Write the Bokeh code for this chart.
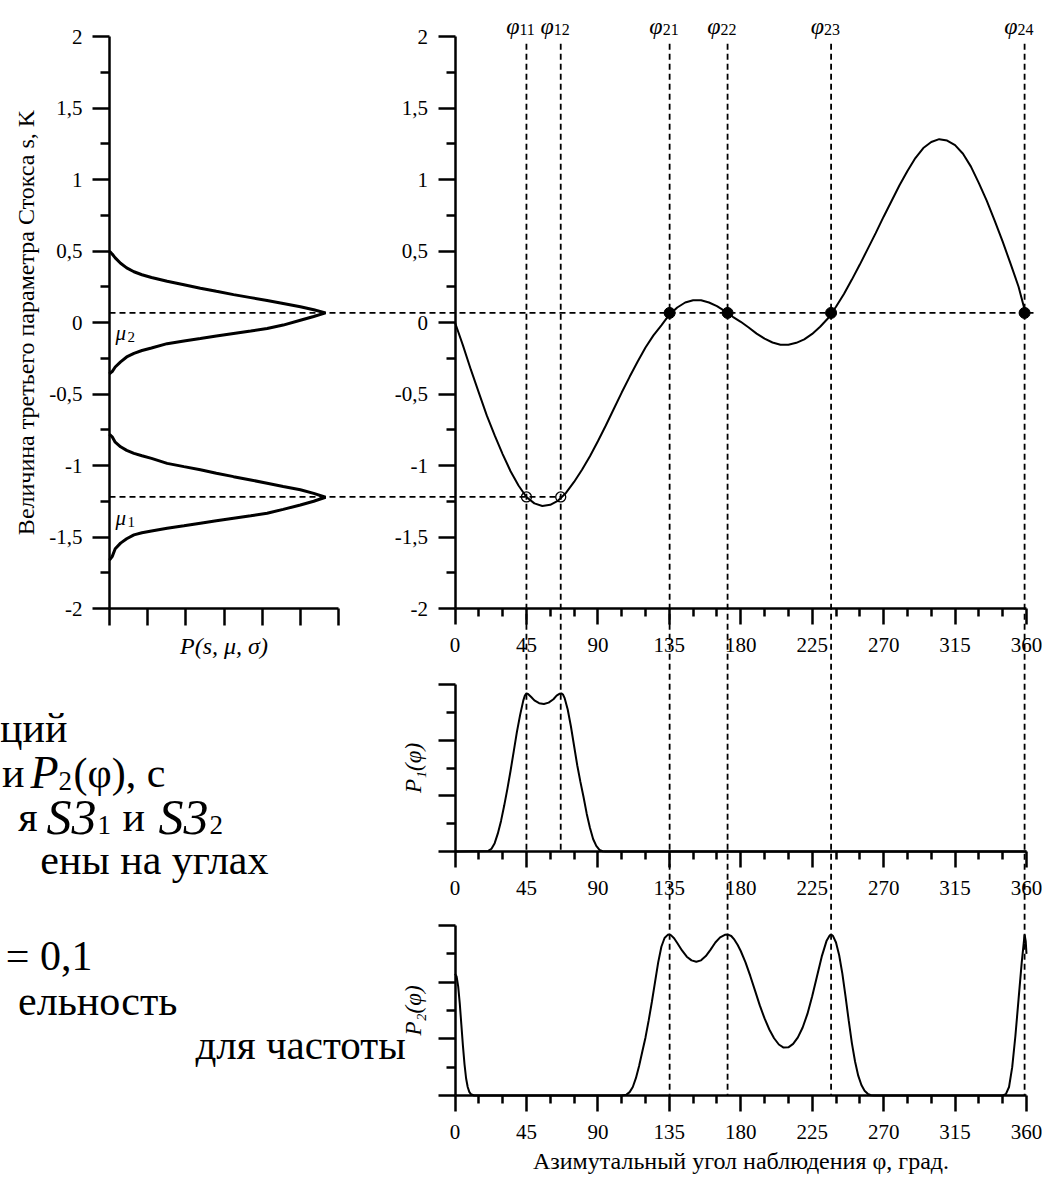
from bokeh.plotting import figure
from bokeh.models import Range1d, LinearAxis, FixedTicker, CustomJSTickFormatter
from bokeh.core.properties import value
from bokeh.embed import file_html
from bokeh.resources import INLINE

# ---------------- data ----------------
# left panel: densities P(s, mu, sigma) in tick units (0..6) vs s
pdf2_P = [0.0, 0.02, 0.07, 0.15, 0.29, 0.45, 0.64, 0.85, 1.1, 1.51, 1.95, 2.38, 2.8, 3.25, 3.7, 4.13, 4.55, 5.0, 5.35, 5.66,
          5.35, 5.0, 4.55, 4.13, 3.7, 3.25, 2.8, 2.38, 1.95, 1.51, 1.1, 0.85, 0.64, 0.45, 0.29, 0.15, 0.07, 0.02, 0.0]
pdf2_s = [0.500, 0.492, 0.479, 0.452, 0.414, 0.382, 0.355, 0.334, 0.315, 0.288, 0.264, 0.240, 0.218, 0.195, 0.174, 0.154, 0.133, 0.110, 0.089, 0.067,
          0.042, 0.016, -0.018, -0.042, -0.060, -0.077, -0.095, -0.112, -0.129, -0.148, -0.178, -0.196, -0.216, -0.241, -0.275, -0.311, -0.343, -0.353, -0.360]
pdf1_P = [0.0, 0.02, 0.07, 0.15, 0.29, 0.45, 0.64, 0.85, 1.1, 1.51, 1.95, 2.38, 2.8, 3.25, 3.7, 4.13, 4.55, 5.0, 5.35, 5.66,
          5.35, 5.0, 4.55, 4.13, 3.7, 3.25, 2.8, 2.38, 1.95, 1.51, 1.1, 0.85, 0.64, 0.45, 0.29, 0.15, 0.07, 0.02, 0.0]
pdf1_s = [-0.780, -0.787, -0.799, -0.837, -0.869, -0.894, -0.915, -0.932, -0.950, -0.985, -1.008, -1.030, -1.054, -1.078, -1.101, -1.124, -1.147, -1.170, -1.195, -1.222,
          -1.250, -1.276, -1.307, -1.334, -1.352, -1.369, -1.387, -1.404, -1.422, -1.439, -1.458, -1.470, -1.485, -1.512, -1.543, -1.582, -1.637, -1.654, -1.662]

mu1 = -1.22
mu2 = 0.067
phi1_marks = [45.0, 66.6]
phi2_marks = [135.2, 171.7, 236.9, 358.8]
phi1_names = ["11", "12"]
phi2_names = ["21", "22", "23", "24"]

# main panel: third Stokes parameter s vs azimuth phi
phi_s = list(range(0, 361, 5))
s3 = [0.0, -0.16, -0.33, -0.49, -0.65, -0.79, -0.92, -1.04, -1.14, -1.22,
      -1.265, -1.283, -1.275, -1.245, -1.19, -1.115, -1.03, -0.935, -0.83, -0.72,
      -0.605, -0.49, -0.38, -0.275, -0.175, -0.09, -0.02, 0.055, 0.105, 0.14,
      0.156, 0.155, 0.14, 0.115, 0.08, 0.04, 0.005, -0.035, -0.078, -0.113,
      -0.14, -0.155, -0.156, -0.142, -0.118, -0.08, -0.03, 0.03, 0.11, 0.2,
      0.3, 0.405, 0.515, 0.625, 0.74, 0.85, 0.96, 1.06, 1.15, 1.22,
      1.262, 1.282, 1.272, 1.24, 1.18, 1.09, 0.975, 0.85, 0.71, 0.565,
      0.41, 0.25, 0.04]

# P1(phi) in tick units 0..6
p1_phi = [0, 21, 23, 25, 27, 29, 31, 33, 35, 37, 39, 41, 43, 44, 45, 46, 48, 50, 53, 56,
          59, 62, 64, 66, 67, 68, 69, 71, 73, 75, 77, 79, 81, 83, 85, 87, 89, 91, 93, 95, 360]
p1_val = [0, 0.02, 0.1, 0.3, 0.65, 1.1, 1.65, 2.25, 2.9, 3.6, 4.3, 4.9, 5.42, 5.6, 5.68, 5.66, 5.55, 5.43, 5.33, 5.3,
          5.35, 5.47, 5.6, 5.67, 5.68, 5.64, 5.52, 5.1, 4.5, 3.8, 3.1, 2.5, 1.95, 1.35, 0.85, 0.45, 0.2, 0.06, 0.01, 0.0, 0.0]

# P2(phi) in tick units 0..6
p2_phi = [0, 1, 2, 3, 4, 5, 6, 7, 8, 9,
          10, 12, 105, 108, 110, 112, 114, 116, 118, 120,
          122, 124, 126, 128, 130, 132, 134, 135, 136, 138,
          140, 143, 146, 149, 152, 155, 158, 161, 164, 167,
          170, 172, 174, 176, 178, 180, 183, 186, 189, 192,
          195, 198, 201, 204, 207, 210, 213, 216, 219, 222,
          225, 228, 231, 234, 236, 237, 238, 240, 242, 244,
          246, 248, 250, 252, 254, 256, 258, 260, 262, 264,
          345, 347, 349, 351, 353, 355, 357, 358.8, 359.5, 360]
p2_val = [4.3, 4.2, 3.85, 3.25, 2.5, 1.75, 1.1, 0.6, 0.3, 0.13,
          0.05, 0.0, 0.0, 0.03, 0.12, 0.3, 0.62, 1.05, 1.55, 2.05,
          2.65, 3.3, 4.0, 4.7, 5.25, 5.56, 5.67, 5.68, 5.66, 5.55,
          5.38, 5.12, 4.9, 4.77, 4.72, 4.77, 4.92, 5.15, 5.4, 5.58,
          5.67, 5.68, 5.63, 5.5, 5.32, 5.1, 4.7, 4.22, 3.7, 3.18,
          2.72, 2.33, 2.02, 1.8, 1.69, 1.7, 1.82, 2.05, 2.4, 2.88,
          3.5, 4.2, 4.9, 5.45, 5.65, 5.68, 5.64, 5.4, 4.95, 4.3,
          3.5, 2.65, 1.85, 1.2, 0.7, 0.37, 0.17, 0.06, 0.01, 0.0,
          0.0, 0.05, 0.3, 1.0, 2.1, 3.4, 4.7, 5.68, 5.45, 5.0]

# ticks
s_major = [-2, -1.5, -1, -0.5, 0, 0.5, 1, 1.5, 2]
s_minor = [-1.75, -1.25, -0.75, -0.25, 0.25, 0.75, 1.25, 1.75]
pdf_ticks = [0, 1, 2, 3, 4, 5, 6]
phi_major = [0, 45, 90, 135, 180, 225, 270, 315, 360]
phi_minor = [15, 30, 60, 75, 105, 120, 150, 165, 195, 210, 240, 255, 285, 300, 330, 345]
p_major = [0, 2, 4, 6]
p_minor = [1, 3, 5]

# slide text fragments (cut at the left edge of the picture):
# (text, x px, baseline y px, align, style, size px)
slide_pieces = [
    ("ций", 67, 727, "right", "normal", 42),
    ("и", 24, 772, "right", "normal", 42),
    ("P", 30, 772, "left", "italic", 46),
    ("2", 58, 780, "left", "normal", 27),
    ("(φ), с", 73, 772, "left", "normal", 42),
    ("я", 37, 816, "right", "normal", 42),
    ("S3", 46, 816, "left", "italic", 50),
    ("1", 97, 824, "left", "normal", 27),
    ("и", 122, 816, "left", "normal", 42),
    ("S3", 158, 816, "left", "italic", 50),
    ("2", 209, 824, "left", "normal", 27),
    ("ены на углах", 268, 859, "right", "normal", 42),
    ("= 0,1", 92, 955, "right", "normal", 42),
    ("ельность", 177, 1000, "right", "normal", 42),
    ("для частоты", 195, 1044, "left", "normal", 41),
]

# ---------------- layout (page pixels) ----------------
MARGIN = 0
W, H = 1042, 1180
LEFT_AX_PX, LEFT_UNIT_PX = 109.0, 38.17
PHI0_PX, PHI_UNIT_PX = 454.5, 1.5875
S0_PY, S_UNIT_PX = 322.0, 143.0
P1_BASE_PY, P1_TOP_PY = 851.0, 684.0
P2_BASE_PY, P2_TOP_PY = 1095.0, 925.0
P_MAX = 6.0
p1_unit = (P1_BASE_PY - P1_TOP_PY) / P_MAX
p2_unit = (P2_BASE_PY - P2_TOP_PY) / P_MAX


def xr(origin_px, unit_px):
    return Range1d(start=(MARGIN - origin_px) / unit_px, end=(MARGIN + W - origin_px) / unit_px)


def yr(origin_py, unit_px):
    return Range1d(start=(origin_py - (MARGIN + H)) / unit_px, end=(origin_py - MARGIN) / unit_px)


def phi_of_px(px):
    return (px - PHI0_PX) / PHI_UNIT_PX


def s_of_py(py):
    return (S0_PY - py) / S_UNIT_PX


def left_of_px(px):
    return (px - LEFT_AX_PX) / LEFT_UNIT_PX


p = figure(width=W, height=H, x_range=xr(PHI0_PX, PHI_UNIT_PX), y_range=yr(S0_PY, S_UNIT_PX),
           x_axis_type=None, y_axis_type=None, output_backend="svg", toolbar_location=None,
           min_border=0)
p.extra_x_ranges = {"left": xr(LEFT_AX_PX, LEFT_UNIT_PX)}
p.extra_y_ranges = {"p1": yr(P1_BASE_PY, p1_unit), "p2": yr(P2_BASE_PY, p2_unit)}
p.outline_line_color = None
p.background_fill_color = "white"
p.border_fill_color = "white"

SERIF = "Liberation Serif"
comma_fmt = CustomJSTickFormatter(code="return String(tick).replace('.', ',');")
empty_fmt = CustomJSTickFormatter(code="return '';")


def style(ax, tick_out=17, minor_out=9):
    ax.axis_line_width = 2.5
    ax.axis_line_color = "black"
    ax.major_tick_line_width = 2.5
    ax.minor_tick_line_width = 2.5
    ax.major_tick_line_color = "black"
    ax.minor_tick_line_color = "black"
    ax.major_tick_in = 0
    ax.minor_tick_in = 0
    ax.major_tick_out = tick_out
    ax.minor_tick_out = minor_out
    ax.major_label_text_font = SERIF
    ax.major_label_text_font_size = "21px"
    ax.major_label_text_color = "black"
    ax.axis_label_text_font = SERIF
    ax.axis_label_text_font_size = "24px"
    ax.axis_label_text_color = "black"
    ax.axis_label_text_font_style = "normal"
    return ax


# left panel axes
ax = style(LinearAxis(x_range_name="left", fixed_location=0, bounds=(-2, 2),
                      ticker=FixedTicker(ticks=s_major, minor_ticks=s_minor), formatter=comma_fmt,
                      axis_label="Величина третьего параметра Стокса s, K"))
ax.major_label_standoff = 10
ax.axis_label_standoff = 7
p.add_layout(ax, "left")

ax = style(LinearAxis(x_range_name="left", fixed_location=-2, bounds=(0, 6),
                      ticker=FixedTicker(ticks=pdf_ticks), formatter=empty_fmt, axis_label="P(s, μ, σ)"))
ax.major_label_text_font_size = "0px"
ax.major_label_standoff = 0
ax.axis_label_text_font_style = "italic"
ax.axis_label_standoff = 7
p.add_layout(ax, "below")

# main panel axes
ax = style(LinearAxis(fixed_location=0, bounds=(-2, 2),
                      ticker=FixedTicker(ticks=s_major, minor_ticks=s_minor), formatter=comma_fmt))
ax.major_label_standoff = 10
p.add_layout(ax, "left")

ax = style(LinearAxis(fixed_location=-2, bounds=(0, 360),
                      ticker=FixedTicker(ticks=phi_major, minor_ticks=phi_minor)), tick_out=16, minor_out=8)
ax.major_label_standoff = 13
p.add_layout(ax, "below")

# P1 / P2 axes
for rname, lab, xlab in (("p1", "P₁(φ)", None), ("p2", "P₂(φ)", "Азимутальный угол наблюдения φ, град.")):
    ay = style(LinearAxis(y_range_name=rname, fixed_location=0, bounds=(0, P_MAX),
                          ticker=FixedTicker(ticks=p_major, minor_ticks=p_minor), formatter=empty_fmt,
                          axis_label=lab))
    ay.major_label_text_font_size = "0px"
    ay.major_label_standoff = 0
    ay.axis_label_text_font_style = "italic"
    ay.axis_label_text_font_size = "23px"
    ay.axis_label_standoff = 13
    p.add_layout(ay, "left")
    axx = style(LinearAxis(y_range_name=rname, fixed_location=0, bounds=(0, 360),
                           ticker=FixedTicker(ticks=phi_major, minor_ticks=phi_minor)), tick_out=16, minor_out=8)
    axx.major_label_standoff = 13
    if xlab:
        axx.axis_label = xlab
        axx.axis_label_standoff = 6
    p.add_layout(axx, "below")

# dashed guide lines
DASH = "6 4"
x_start = phi_of_px(LEFT_AX_PX)
x_end = phi_of_px(1033)
p.segment(x0=[x_start, x_start], y0=[mu2, mu1], x1=[x_end, phi1_marks[1]], y1=[mu2, mu1],
          line_color="black", line_width=1.8, line_dash=DASH)
top_s = 1.95
p1_base_s = s_of_py(P1_BASE_PY)
p2_base_s = s_of_py(P2_BASE_PY)
p.segment(x0=phi1_marks, y0=[top_s] * len(phi1_marks), x1=phi1_marks, y1=[p1_base_s] * len(phi1_marks),
          line_color="black", line_width=1.8, line_dash=DASH)
p.segment(x0=phi2_marks, y0=[top_s] * len(phi2_marks), x1=phi2_marks, y1=[p2_base_s] * len(phi2_marks),
          line_color="black", line_width=1.8, line_dash=DASH)

# curves
p.line(pdf2_P, pdf2_s, x_range_name="left", line_color="black", line_width=3)
p.line(pdf1_P, pdf1_s, x_range_name="left", line_color="black", line_width=3)
p.line(phi_s, s3, line_color="black", line_width=2)
p.line(p1_phi, p1_val, y_range_name="p1", line_color="black", line_width=2)
p.line(p2_phi, p2_val, y_range_name="p2", line_color="black", line_width=2)

# markers
p.scatter(phi1_marks, [mu1] * len(phi1_marks), marker="circle", size=10, fill_color=None,
          line_color="black", line_width=1.3)
p.scatter(phi2_marks, [mu2] * len(phi2_marks), marker="circle", size=11, color="black")

# mu labels in left panel
p.text(x=[left_of_px(115)] * 2, y=[mu2, mu1], text=["μ", "μ"], x_range_name="left",
       text_font=value(SERIF), text_font_style="italic", text_font_size="21px",
       text_baseline="alphabetic", y_offset=[20, 21], text_color="black")
p.text(x=[left_of_px(127)] * 2, y=[mu2, mu1], text=["2", "1"], x_range_name="left",
       text_font=value(SERIF), text_font_size="15px", text_baseline="alphabetic",
       y_offset=[24, 25], text_color="black")

# phi labels on top
all_marks = phi1_marks + phi2_marks
all_names = phi1_names + phi2_names
lab_s = s_of_py(25)
p.text(x=all_marks, y=[lab_s] * len(all_marks), text=["φ"] * len(all_marks),
       text_font=value(SERIF), text_font_style="italic", text_font_size="24px",
       text_align="right", text_baseline="alphabetic", x_offset=-7, text_color="black")
p.text(x=all_marks, y=[lab_s] * len(all_marks), text=all_names,
       text_font=value(SERIF), text_font_size="16px",
       text_align="left", text_baseline="alphabetic", x_offset=-7, y_offset=4, text_color="black")

# slide text
for txt, px, py, align, fstyle, fsize in slide_pieces:
    p.text(x=[left_of_px(px)], y=[s_of_py(py)], text=[txt], x_range_name="left",
           text_font=value(SERIF), text_font_style=fstyle, text_font_size=f"{fsize}px",
           text_align=align, text_baseline="alphabetic", text_color="black")

open("out.html", "w").write(file_html(p, INLINE, "Stokes"))
